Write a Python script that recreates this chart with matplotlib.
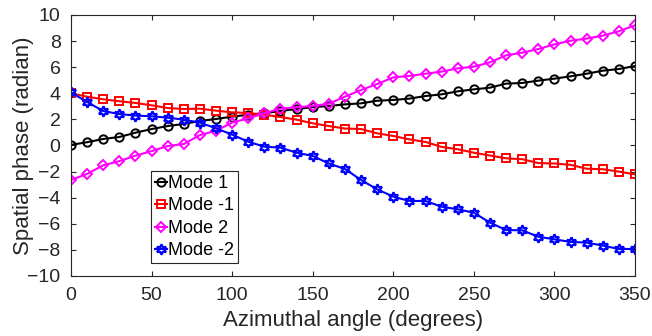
import matplotlib
matplotlib.use("Agg")
from matplotlib import pyplot as plt

# azimuthal angle (deg)
angles = [0, 10, 20, 30, 40, 50, 60, 70, 80, 90, 100, 110, 120, 130, 140, 150, 160, 170,
          180, 190, 200, 210, 220, 230, 240, 250, 260, 270, 280, 290, 300, 310, 320, 330, 340, 350]

mode_1 = [0.05, 0.25, 0.5, 0.65, 0.98, 1.26, 1.49, 1.65, 1.88, 2.03, 2.21, 2.36, 2.47, 2.64, 2.8, 2.93, 3.03, 3.15,
          3.23, 3.43, 3.49, 3.59, 3.79, 3.92, 4.15, 4.3, 4.43, 4.74, 4.79, 4.97, 5.12, 5.3, 5.5, 5.73, 5.86, 6.09]
mode_m1 = [4.0, 3.74, 3.54, 3.39, 3.26, 3.08, 2.87, 2.8, 2.82, 2.67, 2.54, 2.49, 2.36, 2.18, 1.98, 1.7, 1.49, 1.3,
           1.26, 0.93, 0.73, 0.47, 0.27, -0.11, -0.29, -0.55, -0.77, -0.98, -1.05, -1.35, -1.38, -1.48, -1.78, -1.82, -2.0, -2.21]
mode_2 = [-2.64, -2.18, -1.52, -1.2, -0.78, -0.43, -0.04, 0.11, 0.8, 1.13, 1.75, 2.08, 2.47, 2.82, 2.93, 3.03, 3.2, 3.74,
          4.25, 4.71, 5.22, 5.33, 5.5, 5.66, 5.91, 6.04, 6.37, 6.91, 7.11, 7.39, 7.75, 8.03, 8.19, 8.42, 8.75, 9.21]
mode_m2 = [4.07, 3.33, 2.64, 2.41, 2.29, 2.24, 2.13, 1.98, 1.75, 1.32, 0.83, 0.29, -0.09, -0.17, -0.55, -0.8, -1.38, -1.8,
           -2.64, -3.36, -3.92, -4.25, -4.25, -4.69, -4.89, -5.15, -5.91, -6.48, -6.5, -6.99, -7.19, -7.39, -7.44, -7.67, -7.93, -7.93]

labels = ["Mode 1", "Mode -1", "Mode 2", "Mode -2"]
x_ticks = [0, 50, 100, 150, 200, 250, 300, 350]
y_ticks = [-10, -8, -6, -4, -2, 0, 2, 4, 6, 8, 10]

plt.rcParams['font.family'] = ['Liberation Sans', 'DejaVu Sans']

fig = plt.figure(figsize=(6.52, 3.36), dpi=100)
ax = fig.add_axes([0.1089, 0.1786, 0.865, 0.7768])

ax.plot(angles, mode_1, color="black", marker="o", mfc="none", ms=6, mew=1.4, lw=1.5, label=labels[0])
ax.plot(angles, mode_m1, color="#ff0000", marker="s", mfc="none", ms=5.5, mew=1.4, lw=1.5, label=labels[1])
ax.plot(angles, mode_2, color="#ff00ff", marker="D", mfc="none", ms=5, mew=1.4, lw=1.5, label=labels[2])
ax.plot(angles, mode_m2, color="#0000ff", marker=(6, 1, 0), mfc="none", ms=7.5, mew=1.6, lw=1.5, label=labels[3])

ax.set_xlim(0, 350)
ax.set_ylim(-10, 10)
ax.set_xticks(x_ticks)
ax.set_yticks(y_ticks)
ax.tick_params(direction="in", length=3.5, width=0.8, colors="#262626", top=True, right=True, labelsize=14)
ax.tick_params(axis="x", pad=8)
ax.tick_params(axis="y", pad=7.5)
for s in ax.spines.values():
    s.set_color("#262626")
    s.set_linewidth(0.8)

ax.set_xlabel("Azimuthal angle (degrees)", color="#262626", fontsize=16)
ax.set_ylabel("Spatial phase (radian)", color="#262626", fontsize=16)
ax.xaxis.set_label_coords(0.5, -0.132)
ax.yaxis.set_label_coords(-0.066, 0.5)

leg = ax.legend(loc="lower left", bbox_to_anchor=(0.142, 0.05), fancybox=False, framealpha=1,
                edgecolor="#262626", handlelength=0.7, handletextpad=0.05, labelspacing=0.3,
                borderpad=0.2, borderaxespad=0, fontsize=13)
leg.get_frame().set_linewidth(0.8)

fig.savefig("out.png", dpi=100)
